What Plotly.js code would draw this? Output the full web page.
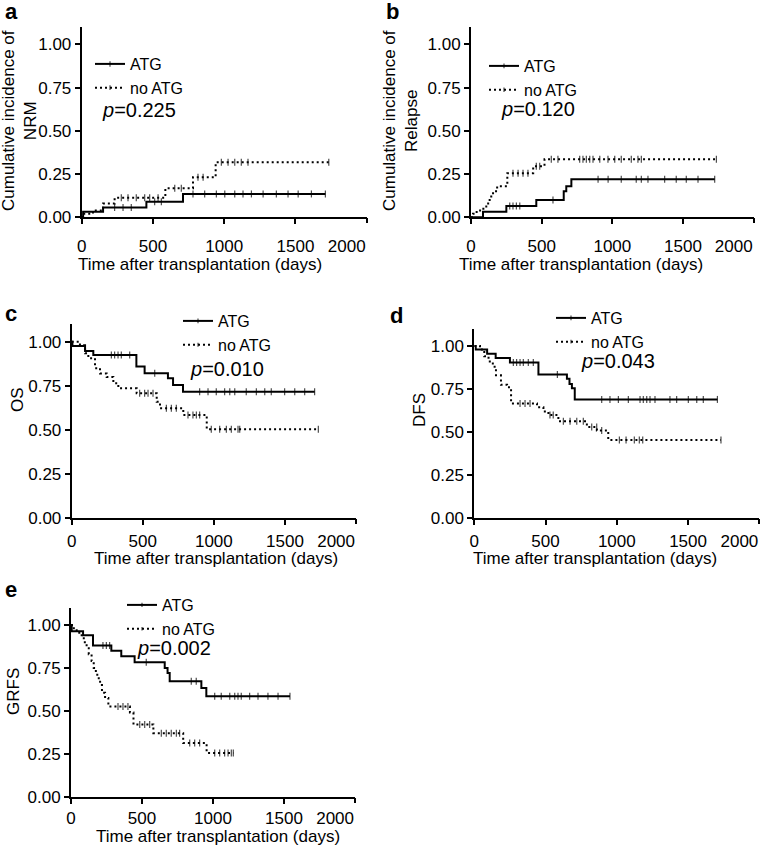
<html>
<head>
<script src="https://cdn.plot.ly/plotly-3.0.1.min.js"></script>
</head>
<body style="margin:0">
<div id="chart"></div>
<script>
// Kaplan-Meier style curves: step times (days) + values after each step, and censor times
// a: cumulative incidence of NRM
const nrmAtgT = [0, 10, 150, 454, 711];
const nrmAtgV = [0, 0.032, 0.056, 0.09, 0.135];
const nrmAtgC = [231, 290, 348, 512, 559, 781, 863, 945, 1004, 1074, 1132, 1191, 1273, 1366, 1448, 1519, 1612, 1710];
const nrmNoT = [0, 9, 79, 150, 231, 587, 781, 940];
const nrmNoV = [0, 0.02, 0.04, 0.08, 0.113, 0.168, 0.231, 0.318];
const nrmNoC = [278, 325, 383, 442, 477, 536, 653, 699, 816, 852, 980, 1027, 1074, 1120, 1167, 1734];

// b: cumulative incidence of relapse
const relAtgT = [0, 85, 250, 462, 656, 674, 710];
const relAtgV = [0, 0.032, 0.065, 0.10, 0.15, 0.18, 0.22];
const relAtgC = [274, 297, 321, 345, 580, 899, 970, 1063, 1169, 1205, 1252, 1370, 1452, 1523, 1606, 1724];
const relNoT = [0, 14, 40, 75, 108, 132, 156, 185, 257, 440, 520];
const relNoV = [0, 0.02, 0.04, 0.05, 0.08, 0.12, 0.15, 0.18, 0.255, 0.295, 0.335];
const relNoC = [297, 333, 368, 403, 462, 486, 568, 615, 769, 792, 816, 840, 863, 911, 969, 1017, 1063, 1134, 1181, 1205, 1736];

// c: OS
const osAtgT = [0, 5, 94, 152, 455, 513, 677, 713, 783];
const osAtgV = [1, 0.976, 0.947, 0.925, 0.859, 0.821, 0.793, 0.755, 0.717];
const osAtgC = [279, 302, 326, 349, 408, 584, 900, 959, 1017, 1076, 1112, 1147, 1228, 1299, 1358, 1404, 1498, 1569, 1639, 1709];
const osNoT = [0, 58, 94, 117, 164, 199, 246, 293, 328, 457, 598, 621, 785, 950];
const osNoV = [1, 0.98, 0.934, 0.906, 0.85, 0.82, 0.80, 0.765, 0.736, 0.708, 0.66, 0.623, 0.585, 0.504];
const osNoC = [478, 513, 537, 572, 666, 701, 736, 818, 853, 877, 900, 982, 1041, 1088, 1123, 1170, 1182, 1735];

// d: DFS
const dfsAtgT = [0, 10, 90, 150, 250, 450, 650, 668, 685, 705];
const dfsAtgV = [1, 0.98, 0.955, 0.93, 0.905, 0.835, 0.81, 0.78, 0.755, 0.69];
const dfsAtgC = [274, 297, 321, 344, 379, 414, 583, 894, 952, 1011, 1081, 1163, 1186, 1210, 1233, 1268, 1373, 1420, 1502, 1561, 1607, 1706];
const dfsNoT = [0, 40, 70, 100, 130, 152, 187, 230, 258, 440, 485, 520, 590, 790, 860, 940];
const dfsNoV = [1, 0.98, 0.94, 0.91, 0.88, 0.83, 0.775, 0.76, 0.667, 0.645, 0.62, 0.60, 0.563, 0.53, 0.51, 0.455];
const dfsNoC = [321, 356, 391, 531, 554, 625, 672, 719, 765, 824, 859, 894, 1018, 1065, 1123, 1158, 1182, 1731];

// e: GRFS
const grfsAtgT = [0, 5, 85, 155, 284, 354, 448, 660, 680, 695, 918, 953];
const grfsAtgV = [1, 0.963, 0.94, 0.88, 0.85, 0.818, 0.783, 0.75, 0.72, 0.672, 0.633, 0.585];
const grfsAtgC = [225, 249, 272, 530, 847, 882, 1012, 1058, 1118, 1153, 1176, 1199, 1258, 1317, 1387, 1458, 1542];
const grfsNoT = [0, 20, 40, 75, 90, 110, 125, 145, 160, 175, 185, 205, 218, 240, 263, 415, 440, 580, 790, 955];
const grfsNoV = [1, 0.975, 0.955, 0.93, 0.9, 0.865, 0.83, 0.79, 0.75, 0.72, 0.69, 0.65, 0.605, 0.575, 0.525, 0.49, 0.42, 0.37, 0.312, 0.255];
const grfsNoC = [331, 366, 401, 484, 519, 554, 636, 671, 706, 742, 765, 836, 871, 906, 1012, 1047, 1082, 1106, 1129, 1143];

const pValues = ['0.225', '0.120', '0.010', '0.043', '0.002'];
const xTicks = [0, 500, 1000, 1500];
const xLast = 2000;
const yTicks = [0, 0.25, 0.5, 0.75, 1];

const W = 762, H = 845;
const FONT = 'Arial, "Liberation Sans", sans-serif';
const px = x => x / W;
const py = y => 1 - y / H;

// value of the step curve at time t
function stepAt(T, V, t) {
  let v = V[0];
  for (let i = 0; i < T.length; i++) if (T[i] <= t) v = V[i];
  return v;
}

// one trace per curve; censor points sit on the flat parts so 'hv' shape is unchanged
function km(T, V, C, name, dotted, n) {
  let pts = T.map((t, i) => ({t: t, v: V[i], s: 0}));
  C.forEach(t => pts.push({t: t, v: stepAt(T, V, t), s: 5}));
  pts.sort((a, b) => a.t - b.t || a.s - b.s);
  return {
    x: pts.map(p => p.t), y: pts.map(p => p.v),
    mode: 'lines+markers', name: name,
    line: {shape: 'hv', color: 'black', width: 2, dash: dotted ? '2px,3px' : 'solid'},
    marker: {symbol: 'line-ns', size: pts.map(p => p.s), color: 'black', line: {width: 1.2, color: 'black'}},
    xaxis: n == 1 ? 'x' : 'x' + n, yaxis: n == 1 ? 'y' : 'y' + n,
    legend: n == 1 ? 'legend' : 'legend' + n,
    hoverinfo: 'x+y'
  };
}

let data = [
  km(nrmAtgT, nrmAtgV, nrmAtgC, 'ATG', false, 1), km(nrmNoT, nrmNoV, nrmNoC, 'no ATG', true, 1),
  km(relAtgT, relAtgV, relAtgC, 'ATG', false, 2), km(relNoT, relNoV, relNoC, 'no ATG', true, 2),
  km(osAtgT, osAtgV, osAtgC, 'ATG', false, 3), km(osNoT, osNoV, osNoC, 'no ATG', true, 3),
  km(dfsAtgT, dfsAtgV, dfsAtgC, 'ATG', false, 4), km(dfsNoT, dfsNoV, dfsNoC, 'no ATG', true, 4),
  km(grfsAtgT, grfsAtgV, grfsAtgC, 'ATG', false, 5), km(grfsNoT, grfsNoV, grfsNoC, 'no ATG', true, 5)
];
// empty traces so the overlay axes (last x label) get drawn
for (let n = 1; n <= 5; n++) {
  data.push({x: [], y: [], mode: 'lines', showlegend: false, hoverinfo: 'skip',
    xaxis: 'x' + (n + 5), yaxis: n == 1 ? 'y' : 'y' + n});
}

const tickStyle = {
  showline: true, linewidth: 2, linecolor: 'black', ticks: 'outside', ticklen: 5, tickwidth: 2,
  tickcolor: 'black', showgrid: false, zeroline: false, fixedrange: true,
  tickfont: {family: FONT, size: 17, color: 'black'}
};
function xAxis(l, r, y, standoff) {
  return Object.assign({}, tickStyle, {
    domain: [px(l), px(r)], anchor: y, range: [0, 2000],
    tickvals: xTicks, ticktext: xTicks.map(String), ticklabelstandoff: standoff
  });
}
// second axis over each x axis only to pull the last label (2000) in to the left of its tick
function xEnd(base, y, standoff) {
  return Object.assign({}, tickStyle, {
    overlaying: base, anchor: y, range: [0, 2000], showline: false,
    tickvals: [xLast], ticktext: [String(xLast)], ticklabelposition: 'outside left',
    ticklabelstandoff: standoff
  });
}
function yAxis(bottom, top, x) {
  return Object.assign({}, tickStyle, {
    domain: [py(bottom), py(top)], anchor: x, range: [0, 1.1],
    tickvals: yTicks, ticktext: yTicks.map(v => v.toFixed(2))
  });
}
function leg(x, y) {
  return {x: px(x), y: py(y), xanchor: 'left', yanchor: 'top', bgcolor: 'rgba(0,0,0,0)',
    borderwidth: 0, itemwidth: 30, font: {family: FONT, size: 16, color: 'black'}};
}

function note(text, x, y, opts) {
  return Object.assign({text: text, x: px(x), y: py(y), xref: 'paper', yref: 'paper',
    showarrow: false, xanchor: 'center', yanchor: 'middle',
    font: {family: FONT, size: 17, color: 'black'}}, opts || {});
}
const big = {family: FONT, size: 22, color: 'black'};
const pf = {family: FONT, size: 20, color: 'black'};

let annotations = [
  note('<b>a</b>', 3, 12, {xanchor: 'left', font: big}),
  note('<b>b</b>', 384, 12, {xanchor: 'left', font: big}),
  note('<b>c</b>', 3, 314, {xanchor: 'left', font: big}),
  note('<b>d</b>', 388, 315, {xanchor: 'left', font: big}),
  note('<b>e</b>', 3, 589, {xanchor: 'left', font: big}),
  note('Cumulative incidence of<br>NRM', 19, 121, {textangle: -90}),
  note('Cumulative incidence of<br>Relapse', 400, 121, {textangle: -90}),
  note('OS', 17, 400, {textangle: -90}),
  note('DFS', 419, 410, {textangle: -90}),
  note('GRFS', 13, 692, {textangle: -90}),
  note('Time after transplantation (days)', 200, 264),
  note('Time after transplantation (days)', 581, 264),
  note('Time after transplantation (days)', 216, 558),
  note('Time after transplantation (days)', 595, 558),
  note('Time after transplantation (days)', 218, 836),
  note('<i>p</i>=' + pValues[0], 100, 110, {xanchor: 'left', font: pf}),
  note('<i>p</i>=' + pValues[1], 499, 109, {xanchor: 'left', font: pf}),
  note('<i>p</i>=' + pValues[2], 188, 369, {xanchor: 'left', font: pf}),
  note('<i>p</i>=' + pValues[3], 579, 361, {xanchor: 'left', font: pf}),
  note('<i>p</i>=' + pValues[4], 135, 648, {xanchor: 'left', font: pf})
];

let layout = {
  width: W, height: H, margin: {l: 0, r: 0, t: 0, b: 0},
  paper_bgcolor: 'white', plot_bgcolor: 'white', showlegend: true,
  font: {family: FONT, color: 'black'},
  xaxis: xAxis(81.7, 366.7, 'y', 7), yaxis: yAxis(217.3, 27, 'x'),
  xaxis2: xAxis(471, 753.7, 'y2', 7), yaxis2: yAxis(217.3, 27, 'x2'),
  xaxis3: xAxis(71.7, 356, 'y3', 1), yaxis3: yAxis(518.3, 324, 'x3'),
  xaxis4: xAxis(474.3, 759.3, 'y4', 1), yaxis4: yAxis(518.3, 328.8, 'x4'),
  xaxis5: xAxis(71, 355, 'y5', 0), yaxis5: yAxis(796.7, 607.8, 'x5'),
  xaxis6: xEnd('x', 'y', 13), xaxis7: xEnd('x2', 'y2', 13), xaxis8: xEnd('x3', 'y3', 7),
  xaxis9: xEnd('x4', 'y4', 7), xaxis10: xEnd('x5', 'y5', 6),
  legend: leg(90, 47), legend2: leg(484, 49), legend3: leg(178, 304),
  legend4: leg(551, 301), legend5: leg(122, 588),
  annotations: annotations
};

Plotly.newPlot('chart', data, layout, {displayModeBar: false, staticPlot: true});
</script>
</body>
</html>
